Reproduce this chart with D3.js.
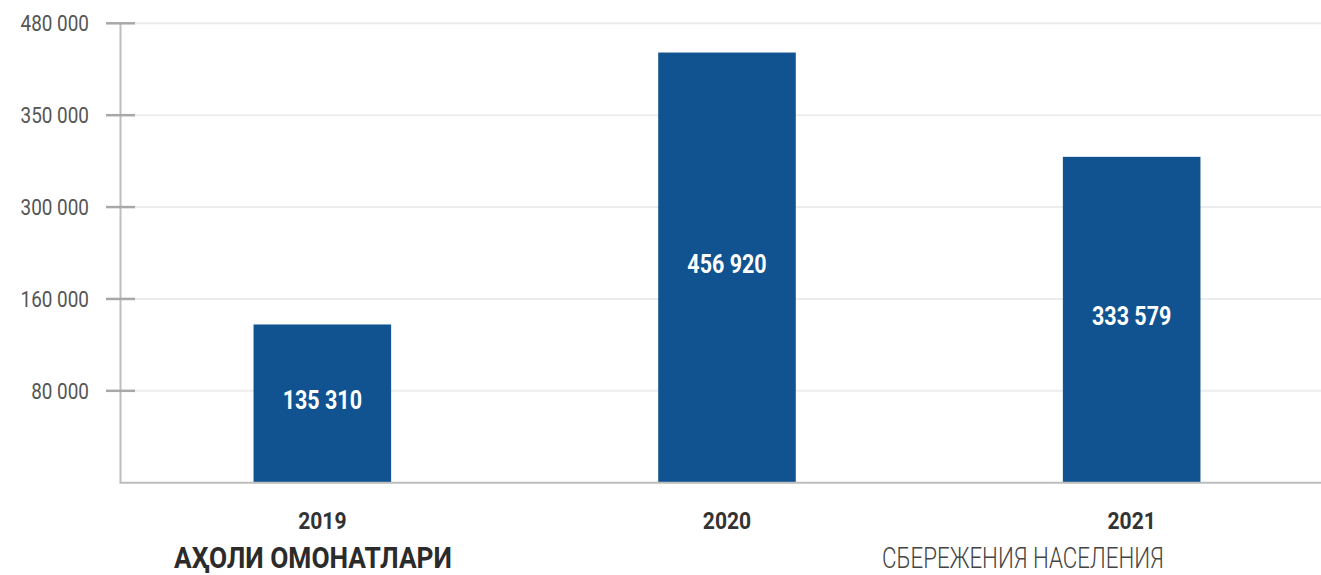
<!DOCTYPE html>
<html>
<head>
<meta charset="utf-8">
<script src="https://cdn.jsdelivr.net/npm/d3@7"></script>
<style>
  html, body { margin: 0; padding: 0; background: #fff; }
  svg { display: block; }
  text { font-family: Roboto, "Liberation Sans", sans-serif; }
</style>
</head>
<body>
<svg id="chart" width="1321" height="575"></svg>
<script>
const years = ["2019", "2020", "2021"];
const values = [135310, 456920, 333579];
const valueLabels = ["135 310", "456 920", "333 579"];
const tickLabels = ["", "80 000", "160 000", "300 000", "350 000", "480 000"];
const titleUz = "АҲОЛИ ОМОНАТЛАРИ";
const titleRu = "СБЕРЕЖЕНИЯ НАСЕЛЕНИЯ";

const plotLeft = 120.5, plotRight = 1321, plotTop = 23.3, plotBottom = 482.7;
const condense = 0.86;

const svg = d3.select("#chart");

const x = d3.scaleBand().domain(years).range([120, 1334]).paddingInner(0.66).paddingOuter(0.33);
const y = d3.scaleLinear().domain([-51800, 491500]).range([plotBottom, plotTop]);
const yTicks = d3.scalePoint().domain(tickLabels).range([plotBottom, plotTop]);

// gridlines
const ticksNoBase = tickLabels.filter(t => t !== "");
svg.append("g").selectAll("line").data(ticksNoBase).join("line")
  .attr("x1", 135).attr("x2", plotRight)
  .attr("y1", d => yTicks(d)).attr("y2", d => yTicks(d))
  .attr("stroke", "#ececec").attr("stroke-width", 2);

// y axis line
svg.append("line").attr("x1", plotLeft).attr("x2", plotLeft).attr("y1", plotTop).attr("y2", plotBottom)
  .attr("stroke", "#bdbdbd").attr("stroke-width", 2);
// tick marks
svg.append("g").selectAll("line").data(ticksNoBase).join("line")
  .attr("x1", 106).attr("x2", 135)
  .attr("y1", d => yTicks(d)).attr("y2", d => yTicks(d))
  .attr("stroke", "#a8a8a8").attr("stroke-width", 2.5);
// tick labels
svg.append("g").selectAll("text").data(ticksNoBase).join("text")
  .attr("transform", d => `translate(89,${yTicks(d)}) scale(0.86,1)`)
  .attr("dy", "0.36em")
  .attr("text-anchor", "end")
  .attr("font-size", 22)
  .attr("font-weight", 400)
  .attr("fill", "#555")
  .text(d => d);

// bars
svg.append("g").selectAll("rect").data(values).join("rect")
  .attr("x", (d, i) => x(years[i]))
  .attr("width", x.bandwidth())
  .attr("y", d => y(d))
  .attr("height", d => y(-51800) - y(d))
  .attr("fill", "#105390");

// x axis baseline
svg.append("line").attr("x1", plotLeft - 1).attr("x2", plotRight).attr("y1", plotBottom).attr("y2", plotBottom)
  .attr("stroke", "#bdbdbd").attr("stroke-width", 2);

// value labels
svg.append("g").selectAll("text").data(values).join("text")
  .attr("transform", (d, i) => `translate(${x(years[i]) + x.bandwidth() / 2},${(y(d) + plotBottom) / 2 - 4}) scale(${condense},1)`)
  .attr("dy", "0.36em")
  .attr("text-anchor", "middle")
  .attr("font-size", 25)
  .attr("font-weight", "bold")
  .attr("fill", "#fff")
  .text((d, i) => valueLabels[i]);

// year labels
svg.append("g").selectAll("text").data(years).join("text")
  .attr("transform", d => `translate(${x(d) + x.bandwidth() / 2},529) scale(${condense},1)`)
  .attr("text-anchor", "middle")
  .attr("font-size", 24.5)
  .attr("font-weight", "bold")
  .attr("fill", "#333")
  .text(d => d);

// bottom titles
function fitTitle(txt, x0, width, weight, color) {
  const t = svg.append("text")
    .attr("font-size", 30).attr("font-weight", weight).attr("fill", color)
    .text(txt);
  const w = t.node().getComputedTextLength();
  t.attr("transform", `translate(${x0},568) scale(${width / w},1)`);
}
fitTitle(titleUz, 174, 278, "bold", "#2b2b2b");
fitTitle(titleRu, 882, 282, 300, "#444");
</script>
</body>
</html>
